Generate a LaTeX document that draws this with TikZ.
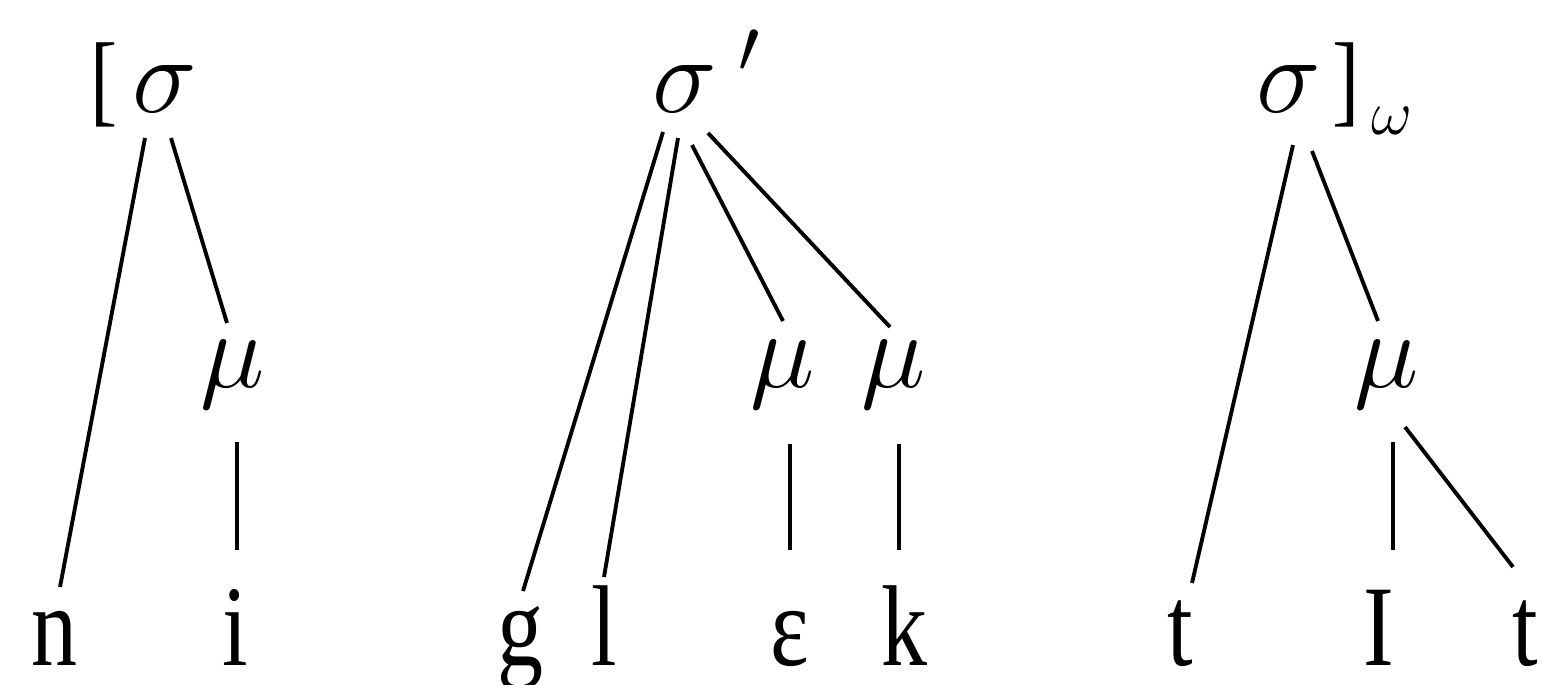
\documentclass[tikz,border=0pt]{standalone}
\usepackage{fix-cm}
\usepackage{fontspec}
\setmainfont{Liberation Serif}[FakeStretch=0.8]
\usepackage{tikz}

\newcommand{\segsize}{\fontsize{32.7}{38}\selectfont}
\newcommand{\grksize}{\fontsize{31}{36}\selectfont}
\newcommand{\brksize}{\fontsize{29}{34}\selectfont}
\newcommand{\subsize}{\fontsize{18}{20}\selectfont}

\begin{document}
\begin{tikzpicture}[
  x=0.01cm, y=-0.01cm,
  seg/.style={font=\segsize, inner sep=0pt, anchor=base},
  syl/.style={font=\grksize, inner sep=0pt, anchor=base},
  brk/.style={font=\brksize, inner sep=0pt, anchor=base},
  tie/.style={line width=1.1pt}
]
\useasboundingbox[fill=white] (0,0) rectangle (1546,684);

% syllable row
\node[brk] (lb1) at (104,113) {[};
\node[syl] (s1) at (165,112) {$\sigma$};
\node[syl, anchor=base west] (s2) at (652,112) {$\sigma$\kern6pt$'$};
\node[syl] (s3) at (1289,112) {$\sigma$};
\node[brk] (rb3) at (1346,113) {]};
\node[syl, font=\subsize] (w3) at (1392,134) {$\omega$};

% mora row
\node[syl] (m1) at (233,387) {$\mu$};
\node[syl] (m2) at (783,387) {$\mu$};
\node[syl] (m3) at (894,387) {$\mu$};
\node[syl] (m4) at (1387,387) {$\mu$};

% segments
\node[seg] (n1) at (54,665) {n};
\node[seg] (i1) at (235,665) {i};
\node[seg] (g2) at (520,665) {g};
\node[seg] (l2) at (604,665) {l};
\node[seg] (e2) at (790,665) {ε};
\node[seg] (k2) at (904,665) {k};
\node[seg] (t3) at (1180,665) {t};
\node[seg] (I3) at (1379,665) {I};
\node[seg] (u3) at (1525,665) {t};

% first syllable
\draw[tie] ([shift={(-20,26)}]s1.base) -- ([shift={(6,-78)}]n1.base);
\draw[tie] ([shift={(6,26)}]s1.base) -- ([shift={(-6,-64)}]m1.base);
\draw[tie] ([shift={(4,55)}]m1.base) -- ([shift={(2,-115)}]i1.base);

% second syllable
\draw[tie] ([shift={(11,20)}]s2.base west) -- ([shift={(3,-74)}]g2.base);
\draw[tie] ([shift={(26,26)}]s2.base west) -- ([shift={(0,-88)}]l2.base);
\draw[tie] ([shift={(40,33)}]s2.base west) -- ([shift={(0,-66)}]m2.base);
\draw[tie] ([shift={(56,21)}]s2.base west) -- ([shift={(-4,-60)}]m3.base);
\draw[tie] ([shift={(7,57)}]m2.base) -- ([shift={(0,-115)}]e2.base);
\draw[tie] ([shift={(5,57)}]m3.base) -- ([shift={(-5,-115)}]k2.base);

% third syllable
\draw[tie] ([shift={(4,33)}]s3.base) -- ([shift={(12,-82)}]t3.base);
\draw[tie] ([shift={(23,39)}]s3.base) -- ([shift={(-9,-66)}]m4.base);
\draw[tie] ([shift={(6,55)}]m4.base) -- ([shift={(14,-115)}]I3.base);
\draw[tie] ([shift={(18,40)}]m4.base) -- ([shift={(-12,-98)}]u3.base);
\end{tikzpicture}
\end{document}
